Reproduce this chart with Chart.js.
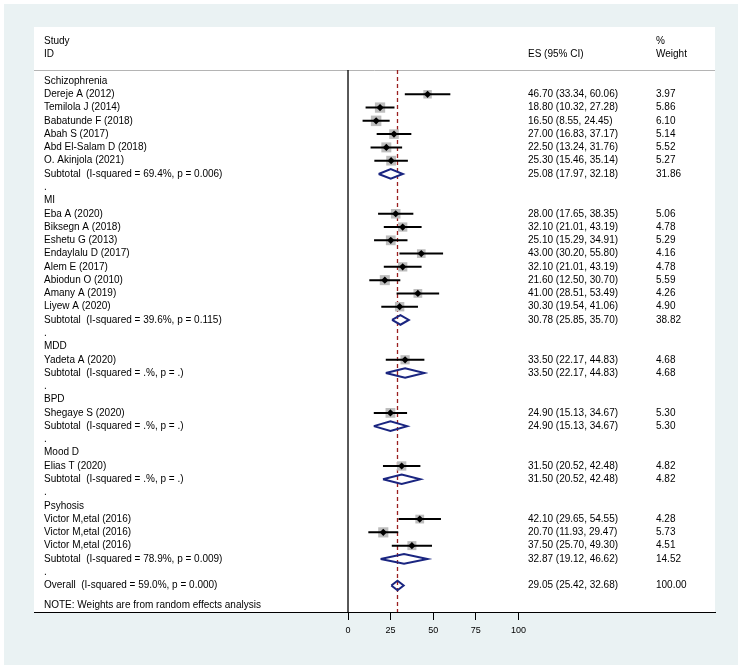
<!DOCTYPE html>
<html>
<head>
<meta charset="utf-8">
<script src="https://cdn.jsdelivr.net/npm/chart.js@4"></script>
<style>
html,body{margin:0;padding:0;background:#fff;}
canvas{display:block;}
</style>
</head>
<body>
<canvas id="c" width="744" height="672"></canvas>
<script>
// ---- data ----
const rowLabels = [
  "Schizophrenia","Dereje A (2012)","Temilola J (2014)","Babatunde F (2018)","Abah S (2017)",
  "Abd El-Salam D (2018)","O. Akinjola (2021)","Subtotal  (I-squared = 69.4%, p = 0.006)",".",
  "MI","Eba A (2020)","Biksegn A (2018)","Eshetu G (2013)","Endaylalu D (2017)","Alem E (2017)",
  "Abiodun O (2010)","Amany A (2019)","Liyew A (2020)","Subtotal  (I-squared = 39.6%, p = 0.115)",".",
  "MDD","Yadeta A (2020)","Subtotal  (I-squared = .%, p = .)",".",
  "BPD","Shegaye S (2020)","Subtotal  (I-squared = .%, p = .)",".",
  "Mood D","Elias T (2020)","Subtotal  (I-squared = .%, p = .)",".",
  "Psyhosis","Victor M,etal (2016)","Victor M,etal (2016)","Victor M,etal (2016)",
  "Subtotal  (I-squared = 78.9%, p = 0.009)",".",
  "Overall  (I-squared = 59.0%, p = 0.000)"
];
// g = group header, s = study, t = subtotal, b = blank, o = overall
const rowKind = [
  "g","s","s","s","s","s","s","t","b",
  "g","s","s","s","s","s","s","s","s","t","b",
  "g","s","t","b",
  "g","s","t","b",
  "g","s","t","b",
  "g","s","s","s","t","b",
  "o"
];
const esVals = [null,46.70,18.80,16.50,27.00,22.50,25.30,25.08,null,
  null,28.00,32.10,25.10,43.00,32.10,21.60,41.00,30.30,30.78,null,
  null,33.50,33.50,null,
  null,24.90,24.90,null,
  null,31.50,31.50,null,
  null,42.10,20.70,37.50,32.87,null,
  29.05];
const loVals = [null,33.34,10.32,8.55,16.83,13.24,15.46,17.97,null,
  null,17.65,21.01,15.29,30.20,21.01,12.50,28.51,19.54,25.85,null,
  null,22.17,22.17,null,
  null,15.13,15.13,null,
  null,20.52,20.52,null,
  null,29.65,11.93,25.70,19.12,null,
  25.42];
const hiVals = [null,60.06,27.28,24.45,37.17,31.76,35.14,32.18,null,
  null,38.35,43.19,34.91,55.80,43.19,30.70,53.49,41.06,35.70,null,
  null,44.83,44.83,null,
  null,34.67,34.67,null,
  null,42.48,42.48,null,
  null,54.55,29.47,49.30,46.62,null,
  32.68];
const weightVals = [null,3.97,5.86,6.10,5.14,5.52,5.27,31.86,null,
  null,5.06,4.78,5.29,4.16,4.78,5.59,4.26,4.90,38.82,null,
  null,4.68,4.68,null,
  null,5.30,5.30,null,
  null,4.82,4.82,null,
  null,4.28,5.73,4.51,14.52,null,
  100.00];
const overallES = 29.05;
const xTickValues = [0,25,50,75,100];
const headerStudy = ["Study","ID"];
const headerES = "ES (95% CI)";
const headerWeight = ["%","Weight"];
const noteText = "NOTE: Weights are from random effects analysis";

// ---- build datasets ----
const studyIdx = rowKind.map((k,i)=>k==="s"?i:-1).filter(i=>i>=0);
const markerPts = studyIdx.map(i=>({x:esVals[i], y:i}));
const squareRadii = studyIdx.map(i=>3.0*Math.sqrt(weightVals[i]));
const ciPts = [];
studyIdx.forEach(i=>{ ciPts.push({x:loVals[i],y:i},{x:hiVals[i],y:i},{x:null,y:null}); });
const diaPts = [];
const DH = 0.36;
rowKind.forEach((k,i)=>{
  if(k==="t"||k==="o"){
    diaPts.push({x:loVals[i],y:i},{x:esVals[i],y:i-DH},{x:hiVals[i],y:i},{x:esVals[i],y:i+DH},{x:loVals[i],y:i},{x:null,y:null});
  }
});
const Y_TOP = -4.07, Y_BOT = 40.0, Y_SEP = -0.83;

const bgPlugin = {
  id:'bg',
  beforeDraw(chart){
    const ctx = chart.ctx, a = chart.chartArea;
    ctx.save();
    ctx.fillStyle = '#ffffff'; ctx.fillRect(0,0,chart.width,chart.height);
    ctx.fillStyle = '#eaf2f3'; ctx.fillRect(4,4,734,661);
    ctx.fillStyle = '#ffffff'; ctx.fillRect(a.left,a.top,a.right-a.left,a.bottom-a.top);
    // header separator
    const ys = Math.round(chart.scales.y.getPixelForValue(Y_SEP))+0.5;
    ctx.strokeStyle = '#b4b4b4'; ctx.lineWidth = 1;
    ctx.beginPath(); ctx.moveTo(a.left,ys); ctx.lineTo(a.right,ys); ctx.stroke();
    ctx.restore();
  },
  afterDraw(chart){
    const ctx = chart.ctx, a = chart.chartArea, ys = chart.scales.y;
    const xLab = a.left + 10, xES = 528, xW = 656;
    ctx.save();
    ctx.fillStyle = '#000';
    ctx.font = '10px "Liberation Sans", Arial, sans-serif';
    ctx.textBaseline = 'middle';
    ctx.textAlign = 'left';
    ctx.fillText(headerStudy[0], xLab, ys.getPixelForValue(-3));
    ctx.fillText(headerStudy[1], xLab, ys.getPixelForValue(-2));
    ctx.fillText(headerES, xES, ys.getPixelForValue(-2));
    ctx.fillText(headerWeight[0], xW, ys.getPixelForValue(-3));
    ctx.fillText(headerWeight[1], xW, ys.getPixelForValue(-2));
    rowLabels.forEach((t,i)=>{
      const y = ys.getPixelForValue(i);
      ctx.fillText(t, xLab, y);
      if(esVals[i]!==null){
        ctx.fillText(esVals[i].toFixed(2)+" ("+loVals[i].toFixed(2)+", "+hiVals[i].toFixed(2)+")", xES, y);
        ctx.fillText(weightVals[i].toFixed(2), xW, y);
      }
    });
    ctx.fillText(noteText, xLab, ys.getPixelForValue(39.5));
    ctx.restore();
  }
};

new Chart(document.getElementById('c'), {
  type:'scatter',
  data:{datasets:[
    {label:'markers', data:markerPts, pointStyle:'rectRot', pointRadius:3.6, backgroundColor:'#000', borderColor:'#000', borderWidth:0, order:1},
    {label:'ci', data:ciPts, showLine:true, spanGaps:false, pointRadius:0, borderColor:'#000', borderWidth:2, order:2},
    {label:'squares', data:markerPts, pointStyle:'rect', pointRadius:squareRadii, backgroundColor:'#bdbdbd', borderWidth:0, order:3},
    {label:'diamonds', data:diaPts, showLine:true, spanGaps:false, pointRadius:0, borderColor:'#1a2580', borderWidth:2, order:4},
    {label:'overall', data:[{x:overallES,y:Y_SEP},{x:overallES,y:Y_BOT}], showLine:true, pointRadius:0, borderColor:'#9a1f1f', borderWidth:1.3, borderDash:[4,3], order:5},
    {label:'null', data:[{x:0,y:Y_SEP},{x:0,y:Y_BOT}], showLine:true, pointRadius:0, borderColor:'#000', borderWidth:1.3, order:6}
  ]},
  options:{
    responsive:false, animation:false,
    layout:{padding:{left:34, right:29, top:27, bottom:0}},
    plugins:{legend:{display:false}, tooltip:{enabled:false}},
    scales:{
      x:{type:'linear', min:-184.3, max:215.4,
        afterBuildTicks(s){ s.ticks = xTickValues.map(v=>({value:v})); },
        afterFit(s){ s.height = 60; },
        grid:{drawOnChartArea:false, drawTicks:true, tickLength:8, color:'#000', lineWidth:1},
        border:{display:true, color:'#000', width:1},
        ticks:{color:'#000', padding:5, font:{family:'"Liberation Sans", Arial, sans-serif', size:9}, autoSkip:false, maxRotation:0}
      },
      y:{type:'linear', display:false, reverse:true, min:Y_TOP, max:Y_BOT}
    }
  },
  plugins:[bgPlugin]
});
</script>
</body>
</html>
